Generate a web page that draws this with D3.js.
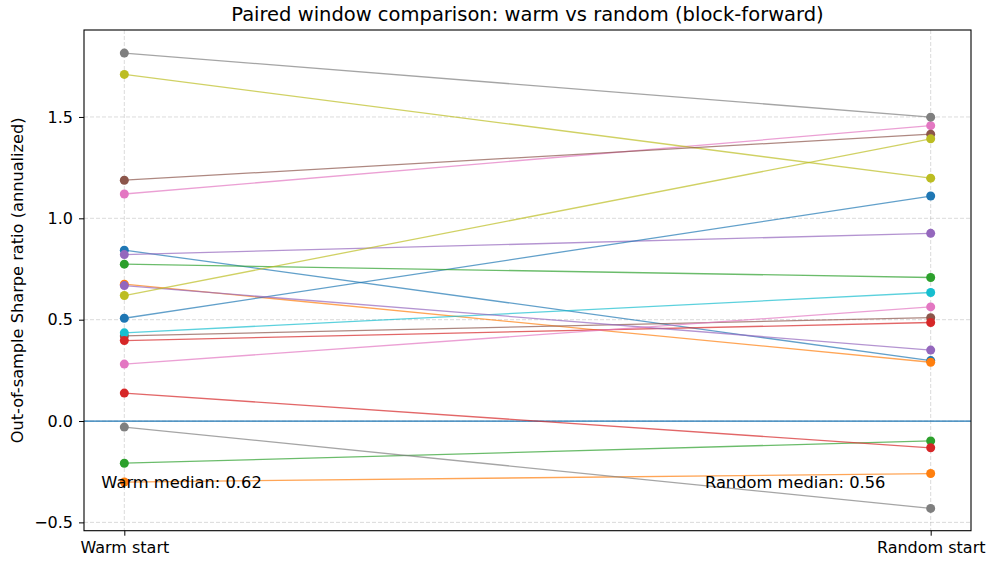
<!DOCTYPE html>
<html>
<head>
<meta charset="utf-8">
<script src="https://cdn.jsdelivr.net/npm/d3@7"></script>
<style>
  html, body { margin: 0; padding: 0; background: #fff; }
  svg { display: block; font-family: "DejaVu Sans", sans-serif; }
</style>
</head>
<body>
<svg id="chart" width="990" height="563"></svg>
<script>
// ---- data ----
const categories = ["Warm start", "Random start"];
const warmSharpe   = [0.843, 0.675, -0.208, 0.138, 0.821, 0.420, 1.120, 1.815, 1.710, 0.435,
                      0.507, -0.301, 0.774, 0.397, 0.668, 1.188, 0.281, -0.030, 0.619];
const randomSharpe = [0.298, 0.290, -0.098, -0.132, 0.926, 0.510, 1.457, 1.499, 1.198, 0.634,
                      1.110, -0.259, 0.708, 0.486, 0.350, 1.415, 0.563, -0.431, 1.392];
const yTicks = [-0.5, 0.0, 0.5, 1.0, 1.5];
const titleText = "Paired window comparison: warm vs random (block-forward)";
const yLabelText = "Out-of-sample Sharpe ratio (annualized)";

// ---- layout ----
const svg = d3.select("#chart");
const plot = { left: 84, right: 971, top: 30, bottom: 530.7 };
const palette = d3.schemeCategory10;

const x = d3.scaleLinear().domain([-0.05, 1.05]).range([plot.left, plot.right]);
const y = d3.scaleLinear().domain([-0.541, 1.929]).range([plot.bottom, plot.top]);

// grid
const grid = svg.append("g");
grid.selectAll("line.gy").data(yTicks).join("line")
  .attr("x1", plot.left).attr("x2", plot.right)
  .attr("y1", d => y(d)).attr("y2", d => y(d))
  .attr("stroke", "#b0b0b0").attr("stroke-opacity", 0.5)
  .attr("stroke-width", 0.9).attr("stroke-dasharray", "4,2");
grid.selectAll("line.gx").data(categories).join("line")
  .attr("x1", (d, i) => x(i)).attr("x2", (d, i) => x(i))
  .attr("y1", plot.top).attr("y2", plot.bottom)
  .attr("stroke", "#b0b0b0").attr("stroke-opacity", 0.5)
  .attr("stroke-width", 0.9).attr("stroke-dasharray", "4,2");

// zero line
svg.append("line")
  .attr("x1", plot.left).attr("x2", plot.right)
  .attr("y1", y(0)).attr("y2", y(0))
  .attr("stroke", "#1f77b4").attr("stroke-width", 1.3);

// paired lines and markers
const pairs = warmSharpe.map((w, i) => ({ i, w, r: randomSharpe[i] }));
const pg = svg.append("g");
pairs.forEach(p => {
  const c = palette[p.i % 10];
  const g = pg.append("g");
  g.append("line")
    .attr("x1", x(0)).attr("y1", y(p.w))
    .attr("x2", x(1)).attr("y2", y(p.r))
    .attr("stroke", c).attr("stroke-opacity", 0.7).attr("stroke-width", 1.3);
  g.selectAll("circle").data([[0, p.w], [1, p.r]]).join("circle")
    .attr("cx", d => x(d[0])).attr("cy", d => y(d[1]))
    .attr("r", 4.5).attr("fill", c);
});

// medians
const fmt = d3.format(".2f");
const warmMed = d3.median(warmSharpe);
const randMed = d3.median(randomSharpe);
svg.append("text")
  .attr("x", x(0.071)).attr("y", y(-0.30)).attr("dy", "0.36em")
  .attr("text-anchor", "middle").attr("font-size", 16.3).attr("fill", "#000")
  .text("Warm median: " + fmt(warmMed));
svg.append("text")
  .attr("x", x(0.832)).attr("y", y(-0.30)).attr("dy", "0.36em")
  .attr("text-anchor", "middle").attr("font-size", 16.3).attr("fill", "#000")
  .text("Random median: " + fmt(randMed));

// axes
const yAxis = d3.axisLeft(y).tickValues(yTicks).tickSize(5).tickPadding(6)
  .tickFormat(d => d3.format(".1f")(d).replace("-", "\u2212"));
const gy = svg.append("g").attr("transform", `translate(${plot.left},0)`).call(yAxis);
gy.select(".domain").remove();
gy.selectAll("text").attr("font-size", 16).attr("font-family", "DejaVu Sans").attr("fill", "#000");
gy.selectAll("line").attr("stroke", "#000").attr("stroke-width", 1);

const xAxis = d3.axisBottom(x).tickValues([0, 1]).tickSize(5).tickPadding(6)
  .tickFormat(d => categories[d]);
const gx = svg.append("g").attr("transform", `translate(0,${plot.bottom})`).call(xAxis);
gx.select(".domain").remove();
gx.selectAll("text").attr("font-size", 16).attr("font-family", "DejaVu Sans").attr("fill", "#000");
gx.selectAll("line").attr("stroke", "#000").attr("stroke-width", 1);

// frame
svg.append("rect")
  .attr("x", plot.left).attr("y", plot.top)
  .attr("width", plot.right - plot.left).attr("height", plot.bottom - plot.top)
  .attr("fill", "none").attr("stroke", "#000").attr("stroke-width", 1.1);

// title and y label
svg.append("text")
  .attr("x", (plot.left + plot.right) / 2).attr("y", 21)
  .attr("text-anchor", "middle").attr("font-size", 19.5).attr("fill", "#000")
  .text(titleText);
svg.append("text")
  .attr("transform", `translate(23,${(plot.top + plot.bottom) / 2}) rotate(-90)`)
  .attr("text-anchor", "middle").attr("font-size", 16.2).attr("fill", "#000")
  .text(yLabelText);
</script>
</body>
</html>
